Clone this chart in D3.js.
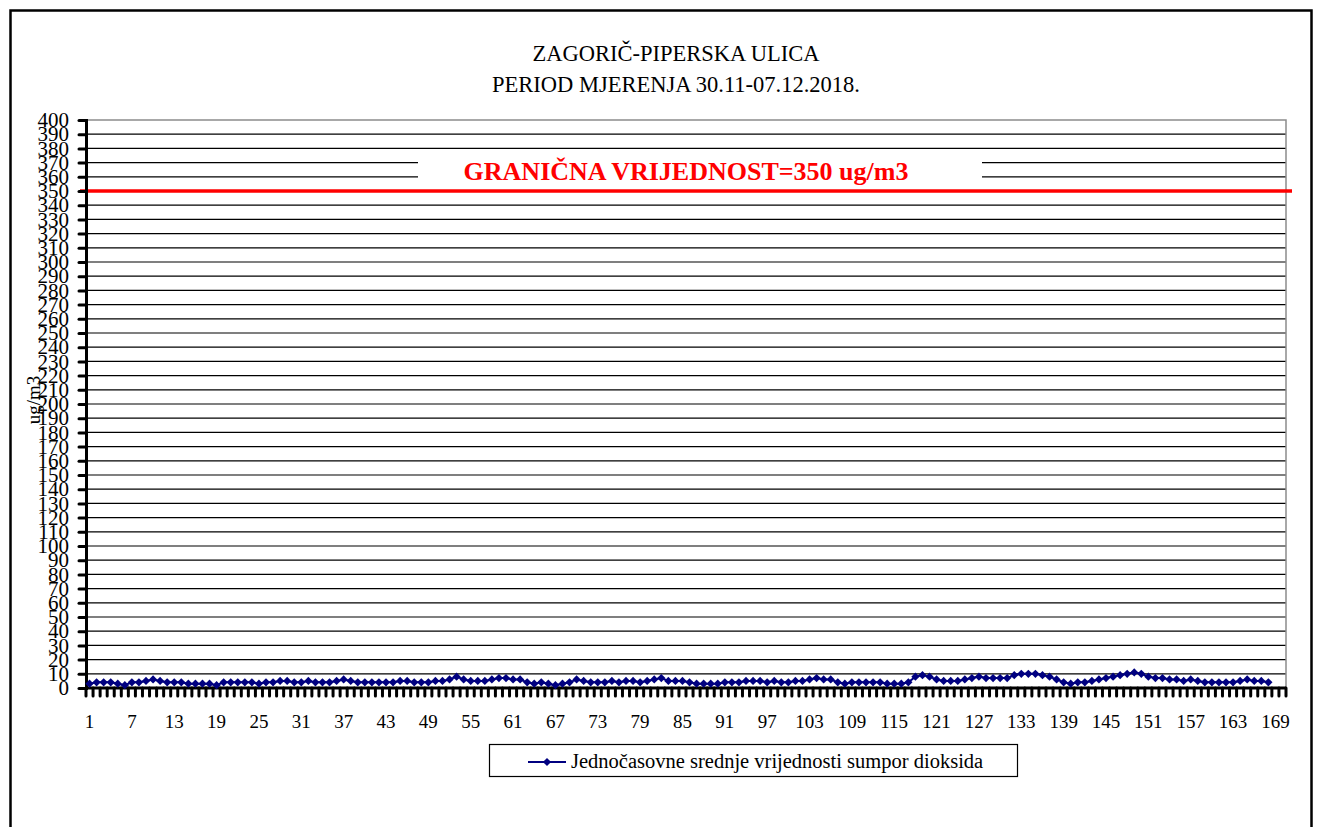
<!DOCTYPE html>
<html>
<head>
<meta charset="utf-8">
<script src="https://cdn.jsdelivr.net/npm/d3@7"></script>
<style>
  body { margin: 0; background: #fff; }
</style>
</head>
<body>
<div id="chart"></div>
<script>
// Title lines
var titleLines = ["ZAGORIČ-PIPERSKA ULICA", "PERIOD MJERENJA 30.11-07.12.2018."];

// Hourly SO2 values (ug/m3), one array per day
var day1 = [3, 4, 4, 4, 3, 2, 4, 4, 5, 6, 5, 4, 4, 4, 3, 3, 3, 3, 2, 4, 4, 4, 4, 4];
var day2 = [3, 4, 4, 5, 5, 4, 4, 5, 4, 4, 4, 5, 6, 5, 4, 4, 4, 4, 4, 4, 5, 5, 4, 4];
var day3 = [4, 5, 5, 6, 8, 6, 5, 5, 5, 6, 7, 7, 6, 6, 4, 3, 4, 3, 2, 3, 4, 6, 5, 4];
var day4 = [4, 4, 5, 4, 5, 5, 4, 5, 6, 7, 5, 5, 5, 4, 3, 3, 3, 3, 4, 4, 4, 5, 5, 5];
var day5 = [4, 5, 4, 4, 5, 5, 6, 7, 6, 6, 4, 3, 4, 4, 4, 4, 4, 3, 3, 3, 4, 8, 9, 8];
var day6 = [6, 5, 5, 5, 6, 7, 8, 7, 7, 7, 7, 9, 10, 10, 10, 9, 8, 6, 4, 3, 4, 4, 5, 6];
var day7 = [7, 8, 9, 10, 11, 10, 8, 7, 7, 6, 6, 5, 6, 5, 4, 4, 4, 4, 4, 5, 6, 5, 5, 4];

// Category axis: hours 1..170, labelled every 6th
var hours = d3.range(1, 171);
var hourLabels = d3.range(1, 171, 6);

// Y ticks and limit value
var yTicks = d3.range(0, 401, 10);
var limitValue = 350;
var limitLabel = "GRANIČNA VRIJEDNOST=350 ug/m3";
var seriesName = "Jednočasovne srednje vrijednosti sumpor dioksida";
var yTitle = "ug/m3";

var serif = "'Liberation Serif', 'Times New Roman', Times, serif";

var values = day1.concat(day2, day3, day4, day5, day6, day7);
var points = values.map(function (v, i) { return { hour: i + 1, value: v }; });

var width = 1322, height = 827;
var plot = { left: 86, right: 1286, top: 120, bottom: 688 };

var svg = d3.select("#chart").append("svg")
    .attr("width", width)
    .attr("height", height);

// Outer frame
svg.append("rect")
    .attr("x", 10.5).attr("y", 10.5)
    .attr("width", 1301).attr("height", 840)
    .attr("fill", "none").attr("stroke", "#000").attr("stroke-width", 2.5);

// Scales
var x = d3.scaleBand().domain(hours).range([plot.left, plot.right]).padding(0);
var y = d3.scaleLinear().domain([0, 400]).range([plot.bottom, plot.top]);
var bw = x.bandwidth();

// Gridlines
svg.append("g").selectAll("line")
    .data(yTicks.filter(function (d) { return d > 0 && d < 400; }))
    .enter().append("line")
    .attr("x1", plot.left).attr("x2", plot.right)
    .attr("y1", function (d) { return y(d); })
    .attr("y2", function (d) { return y(d); })
    .attr("stroke", "#000").attr("stroke-width", 1.2);

// Plot area border (top/right grey)
svg.append("path")
    .attr("d", "M" + plot.left + "," + y(400) + "H" + plot.right + "V" + plot.bottom)
    .attr("fill", "none").attr("stroke", "#8c8c8c").attr("stroke-width", 1.5);

// White box behind the limit label
svg.append("rect")
    .attr("x", 418).attr("y", 152)
    .attr("width", 564).attr("height", 34)
    .attr("fill", "#fff");

// Limit line
svg.append("line")
    .attr("x1", plot.left - 6).attr("x2", plot.right + 6)
    .attr("y1", y(limitValue)).attr("y2", y(limitValue))
    .attr("stroke", "#ff0000").attr("stroke-width", 3.5);

svg.append("text")
    .attr("x", 686).attr("y", 180)
    .attr("text-anchor", "middle")
    .attr("fill", "#ff0000")
    .style("font-family", serif)
    .style("font-size", "26px").style("font-weight", "bold")
    .text(limitLabel);

// Y axis
var yAxis = svg.append("g")
    .attr("transform", "translate(" + plot.left + ",0)")
    .call(d3.axisLeft(y).tickValues(yTicks).tickSize(7).tickPadding(10).tickFormat(d3.format("d")));
yAxis.attr("font-family", null).attr("font-size", null);
yAxis.select(".domain").attr("stroke", "#000").attr("stroke-width", 3);
yAxis.selectAll(".tick line").attr("stroke", "#000").attr("stroke-width", 3).attr("stroke-linecap", "round");
yAxis.selectAll(".tick text")
    .attr("fill", "#000")
    .style("font-size", "21px")
    .style("font-family", serif);

// X axis: ticks at category boundaries, labels at category centres
var xAxis = svg.append("g");
xAxis.selectAll("line.tk")
    .data(d3.range(0, hours.length + 1))
    .enter().append("line")
    .attr("class", "tk")
    .attr("x1", function (i) { return plot.left + i * bw; })
    .attr("x2", function (i) { return plot.left + i * bw; })
    .attr("y1", plot.bottom).attr("y2", plot.bottom + 8)
    .attr("stroke", "#000").attr("stroke-width", 3).attr("stroke-linecap", "round");
xAxis.append("line")
    .attr("x1", plot.left).attr("x2", plot.right)
    .attr("y1", plot.bottom).attr("y2", plot.bottom)
    .attr("stroke", "#000").attr("stroke-width", 3);
xAxis.selectAll("text")
    .data(hourLabels)
    .enter().append("text")
    .attr("x", function (d) { return x(d) + bw / 2; })
    .attr("y", 728)
    .attr("text-anchor", "middle")
    .style("font-family", serif)
    .style("font-size", "19px")
    .text(function (d) { return d; });

// Y axis title
svg.append("text")
    .attr("transform", "translate(40,400) rotate(-90)")
    .attr("text-anchor", "middle")
    .style("font-family", serif)
    .style("font-size", "19px")
    .text(yTitle);

// Title
svg.selectAll("text.title")
    .data(titleLines)
    .enter().append("text")
    .attr("class", "title")
    .attr("x", 676)
    .attr("y", function (d, i) { return 61 + i * 31; })
    .attr("text-anchor", "middle")
    .style("font-family", serif)
    .style("font-size", "22.5px")
    .text(function (d) { return d; });

// Series line and markers
var navy = "#000080";
var line = d3.line()
    .x(function (d) { return x(d.hour) + bw / 2; })
    .y(function (d) { return y(d.value); });

svg.append("path")
    .datum(points)
    .attr("d", line)
    .attr("fill", "none").attr("stroke", navy).attr("stroke-width", 2);

var diamond = d3.symbol().type(d3.symbolSquare).size(34);
svg.append("g").selectAll("path")
    .data(points)
    .enter().append("path")
    .attr("d", diamond)
    .attr("transform", function (d) {
        return "translate(" + (x(d.hour) + bw / 2) + "," + y(d.value) + ") rotate(45)";
    })
    .attr("fill", navy);

// Legend
var legend = svg.append("g");
legend.append("rect")
    .attr("x", 489.5).attr("y", 744.5)
    .attr("width", 528).attr("height", 32)
    .attr("fill", "#fff").attr("stroke", "#000").attr("stroke-width", 1.2);
legend.append("line")
    .attr("x1", 528).attr("x2", 566)
    .attr("y1", 762).attr("y2", 762)
    .attr("stroke", navy).attr("stroke-width", 2);
legend.append("path")
    .attr("d", diamond)
    .attr("transform", "translate(547,762) rotate(45)")
    .attr("fill", navy);
legend.append("text")
    .attr("x", 571).attr("y", 768)
    .style("font-family", serif)
    .style("font-size", "20.5px")
    .text(seriesName);
</script>
</body>
</html>
